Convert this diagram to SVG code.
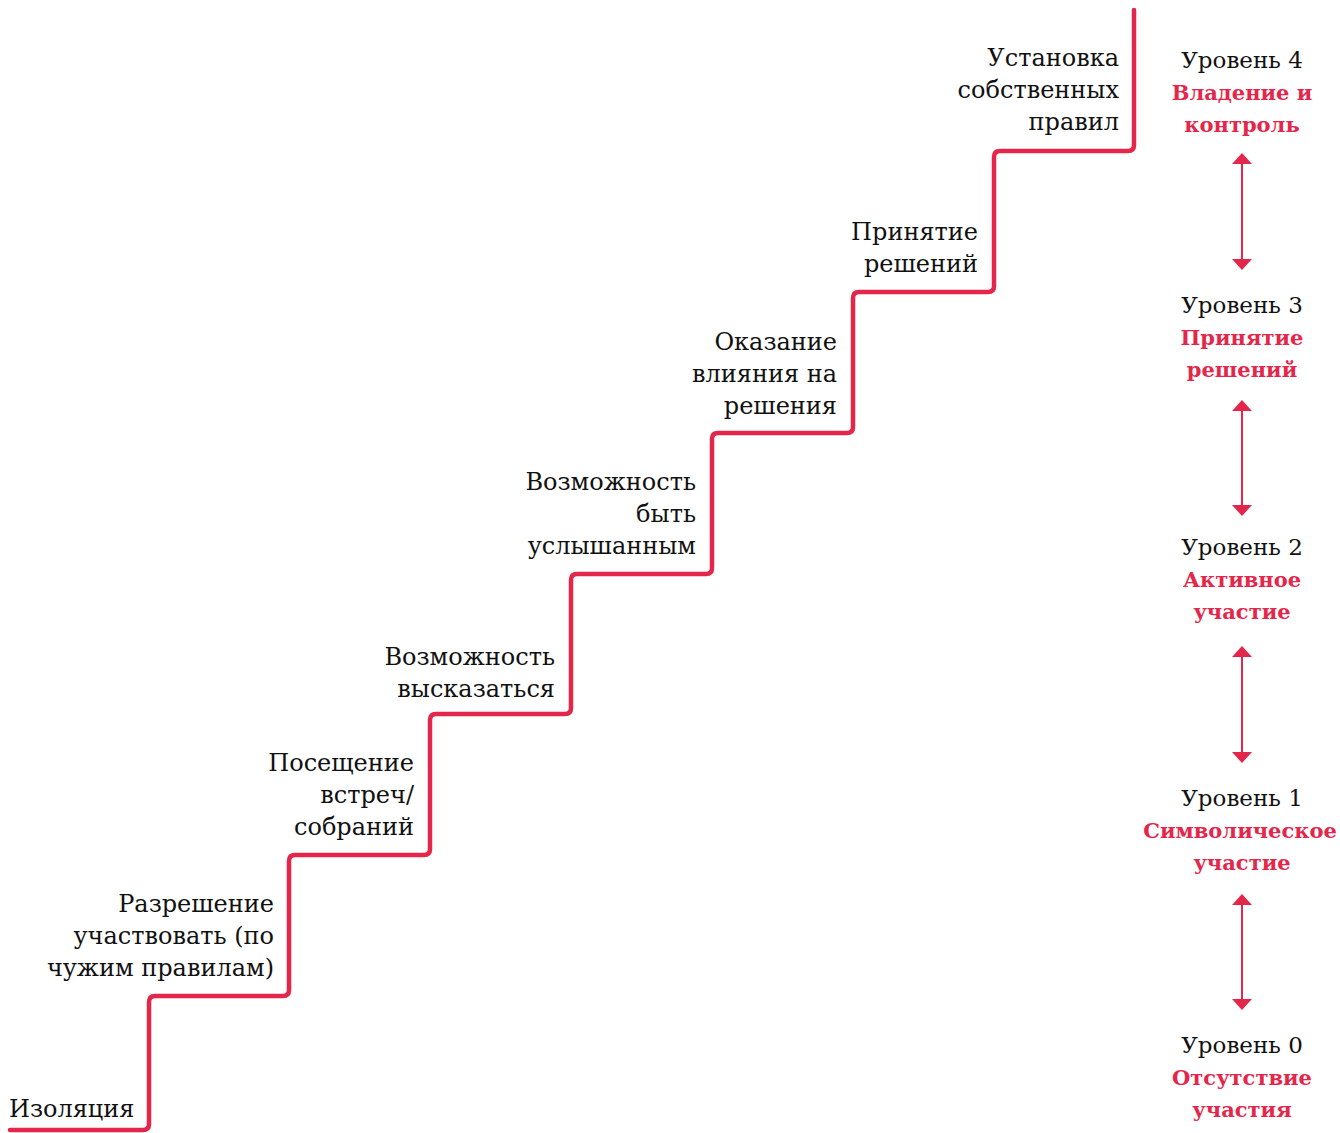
<svg xmlns="http://www.w3.org/2000/svg" width="1340" height="1133" viewBox="0 0 1340 1133">
<defs>
<style>
.lbl{font-family:"DejaVu Serif","Liberation Serif",serif;font-size:24px;fill:#111;text-anchor:end}
.lvl{font-family:"DejaVu Serif","Liberation Serif",serif;font-size:23px;fill:#111;text-anchor:middle}
.lvn{font-family:"DejaVu Serif","Liberation Serif",serif;font-size:21px;font-weight:bold;fill:#E5264B;text-anchor:middle}
.stair{fill:none;stroke:#E5264B;stroke-width:4.5;stroke-linecap:round;stroke-linejoin:round}
.arr{stroke:#E5264B;stroke-width:2;fill:none}
.head{fill:#E5264B}
</style>
</defs>
<g id="connectors">
<path class="stair" d="M10,1130 H143 Q149,1130 149,1124 V1002 Q149,996 155,996 H283 Q289,996 289,990 V861 Q289,855 295,855 H424 Q430,855 430,849 V720 Q430,714 436,714 H565 Q571,714 571,708 V580 Q571,574 577,574 H706 Q712,574 712,568 V439 Q712,433 718,433 H847 Q853,433 853,427 V298 Q853,292 859,292 H988 Q994,292 994,286 V157 Q994,151 1000,151 H1128 Q1134,151 1134,145 V10"/>
<g id="arrow43"><line class="arr" x1="1242" y1="162" x2="1242" y2="261"/><polygon class="head" points="1242,153 1252,164 1232,164"/><polygon class="head" points="1242,270 1252,259 1232,259"/></g>
<g id="arrow32"><line class="arr" x1="1242" y1="409" x2="1242" y2="507"/><polygon class="head" points="1242,400 1252,411 1232,411"/><polygon class="head" points="1242,516 1252,505 1232,505"/></g>
<g id="arrow21"><line class="arr" x1="1242" y1="655" x2="1242" y2="754"/><polygon class="head" points="1242,646 1252,657 1232,657"/><polygon class="head" points="1242,763 1252,752 1232,752"/></g>
<g id="arrow10"><line class="arr" x1="1242" y1="902" x2="1242" y2="1001"/><polygon class="head" points="1242,894 1252,905 1232,905"/><polygon class="head" points="1242,1010 1252,999 1232,999"/></g>
</g>
<g id="step0"><text class="lbl" x="9" y="1117" style="text-anchor:start">Изоляция</text></g>
<g id="step1"><text class="lbl" x="274" y="912">Разрешение</text><text class="lbl" x="274" y="944">участвовать (по</text><text class="lbl" x="274" y="976">чужим правилам)</text></g>
<g id="step2"><text class="lbl" x="414" y="771">Посещение</text><text class="lbl" x="414" y="803">встреч/</text><text class="lbl" x="414" y="835">собраний</text></g>
<g id="step3"><text class="lbl" x="555" y="665">Возможность</text><text class="lbl" x="555" y="697">высказаться</text></g>
<g id="step4"><text class="lbl" x="696" y="490">Возможность</text><text class="lbl" x="696" y="522">быть</text><text class="lbl" x="696" y="554">услышанным</text></g>
<g id="step5"><text class="lbl" x="837" y="350">Оказание</text><text class="lbl" x="837" y="382">влияния на</text><text class="lbl" x="837" y="414">решения</text></g>
<g id="step6"><text class="lbl" x="978" y="240">Принятие</text><text class="lbl" x="978" y="272">решений</text></g>
<g id="step7"><text class="lbl" x="1119" y="66">Установка</text><text class="lbl" x="1119" y="98">собственных</text><text class="lbl" x="1119" y="130">правил</text></g>
<g id="level4"><text class="lvl" x="1242" y="68">Уровень 4</text><text class="lvn" x="1242" y="100">Владение и</text><text class="lvn" x="1242" y="132">контроль</text></g>
<g id="level3"><text class="lvl" x="1242" y="313">Уровень 3</text><text class="lvn" x="1242" y="345">Принятие</text><text class="lvn" x="1242" y="377">решений</text></g>
<g id="level2"><text class="lvl" x="1242" y="555">Уровень 2</text><text class="lvn" x="1242" y="587">Активное</text><text class="lvn" x="1242" y="619">участие</text></g>
<g id="level1"><text class="lvl" x="1242" y="806">Уровень 1</text><text class="lvn" x="1240" y="838">Символическое</text><text class="lvn" x="1242" y="870">участие</text></g>
<g id="level0"><text class="lvl" x="1242" y="1053">Уровень 0</text><text class="lvn" x="1242" y="1085">Отсутствие</text><text class="lvn" x="1242" y="1117">участия</text></g>
</svg>
